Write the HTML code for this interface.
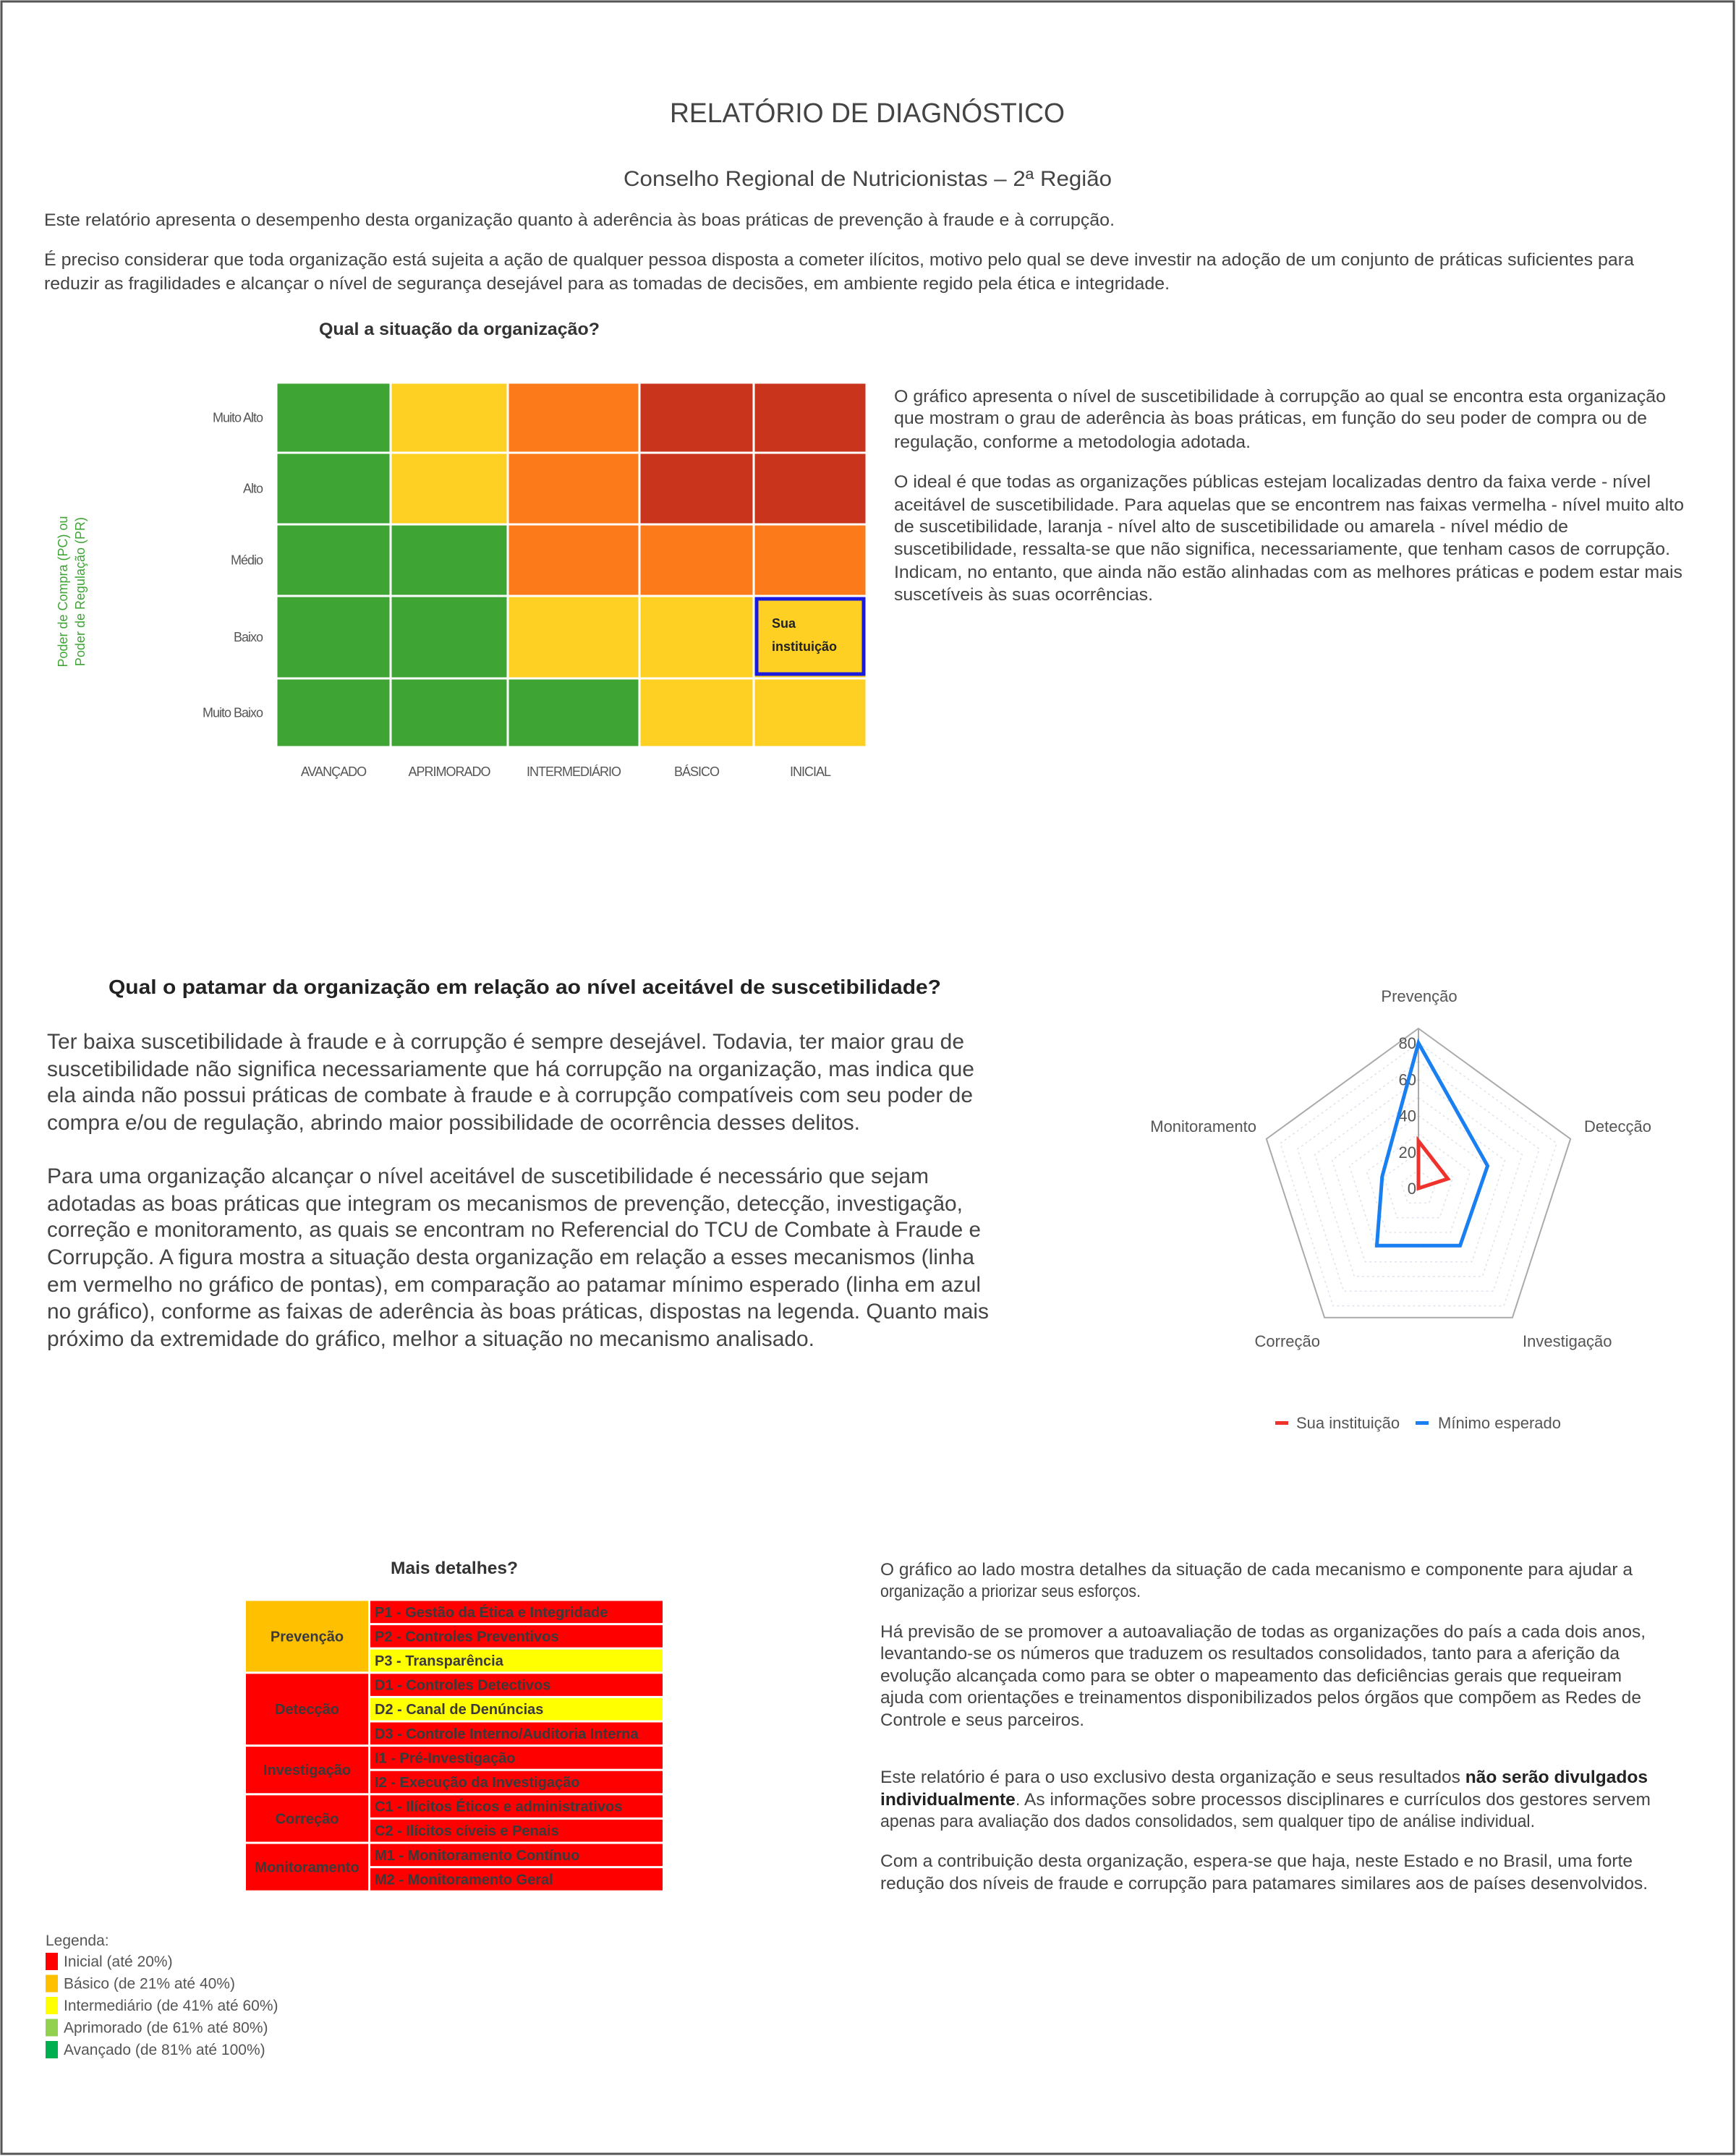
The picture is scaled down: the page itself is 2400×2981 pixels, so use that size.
<!DOCTYPE html>
<html><head><meta charset="utf-8"><style>
html,body{margin:0;padding:0;background:#fff;}
svg{display:block;font-family:"Liberation Sans",Arial,sans-serif;}
</style></head><body>
<svg id="page" width="2400" height="2981" viewBox="0 0 2400 2981" xmlns="http://www.w3.org/2000/svg">
<rect x="2" y="2" width="2395" height="2976" fill="#fff" stroke="#555" stroke-width="3"/>
<g fill="#444">
<text x="926" y="169" font-size="38" textLength="546" lengthAdjust="spacingAndGlyphs">RELATÓRIO DE DIAGNÓSTICO</text>
<text x="862" y="257" font-size="30" textLength="675" lengthAdjust="spacingAndGlyphs">Conselho Regional de Nutricionistas – 2ª Região</text>
<g font-size="24">
<text x="61" y="312" textLength="1480" lengthAdjust="spacingAndGlyphs">Este relatório apresenta o desempenho desta organização quanto à aderência às boas práticas de prevenção à fraude e à corrupção.</text>
<text x="61" y="367" textLength="2198" lengthAdjust="spacingAndGlyphs">É preciso considerar que toda organização está sujeita a ação de qualquer pessoa disposta a cometer ilícitos, motivo pelo qual se deve investir na adoção de um conjunto de práticas suficientes para</text>
<text x="61" y="400" textLength="1556" lengthAdjust="spacingAndGlyphs">reduzir as fragilidades e alcançar o nível de segurança desejável para as tomadas de decisões, em ambiente regido pela ética e integridade.</text>
</g>
<text x="635" y="463" font-size="24" font-weight="bold" text-anchor="middle" textLength="388" lengthAdjust="spacingAndGlyphs" fill="#333">Qual a situação da organização?</text>
<g font-size="24">
<text x="1236" y="556" textLength="1067" lengthAdjust="spacingAndGlyphs">O gráfico apresenta o nível de suscetibilidade à corrupção ao qual se encontra esta organização</text>
<text x="1236" y="586" textLength="1041" lengthAdjust="spacingAndGlyphs">que mostram o grau de aderência às boas práticas, em função do seu poder de compra ou de</text>
<text x="1236" y="619" textLength="493" lengthAdjust="spacingAndGlyphs">regulação, conforme a metodologia adotada.</text>
<text x="1236" y="674" textLength="1046" lengthAdjust="spacingAndGlyphs">O ideal é que todas as organizações públicas estejam localizadas dentro da faixa verde - nível</text>
<text x="1236" y="706" textLength="1092" lengthAdjust="spacingAndGlyphs">aceitável de suscetibilidade. Para aquelas que se encontrem nas faixas vermelha - nível muito alto</text>
<text x="1236" y="736" textLength="932" lengthAdjust="spacingAndGlyphs">de suscetibilidade, laranja - nível alto de suscetibilidade ou amarela - nível médio de</text>
<text x="1236" y="767" textLength="1073" lengthAdjust="spacingAndGlyphs">suscetibilidade, ressalta-se que não significa, necessariamente, que tenham casos de corrupção.</text>
<text x="1236" y="799" textLength="1090" lengthAdjust="spacingAndGlyphs">Indicam, no entanto, que ainda não estão alinhadas com as melhores práticas e podem estar mais</text>
<text x="1236" y="830" textLength="358" lengthAdjust="spacingAndGlyphs">suscetíveis às suas ocorrências.</text>
</g>
<text x="150" y="1374" font-size="28" font-weight="bold" textLength="1151" lengthAdjust="spacingAndGlyphs" fill="#222">Qual o patamar da organização em relação ao nível aceitável de suscetibilidade?</text>
<g font-size="30">
<text x="65" y="1450" textLength="1268" lengthAdjust="spacingAndGlyphs">Ter baixa suscetibilidade à fraude e à corrupção é sempre desejável. Todavia, ter maior grau de</text>
<text x="65" y="1488" textLength="1282" lengthAdjust="spacingAndGlyphs">suscetibilidade não significa necessariamente que há corrupção na organização, mas indica que</text>
<text x="65" y="1524" textLength="1280" lengthAdjust="spacingAndGlyphs">ela ainda não possui práticas de combate à fraude e à corrupção compatíveis com seu poder de</text>
<text x="65" y="1562" textLength="1124" lengthAdjust="spacingAndGlyphs">compra e/ou de regulação, abrindo maior possibilidade de ocorrência desses delitos.</text>
<text x="65" y="1636" textLength="1219" lengthAdjust="spacingAndGlyphs">Para uma organização alcançar o nível aceitável de suscetibilidade é necessário que sejam</text>
<text x="65" y="1674" textLength="1266" lengthAdjust="spacingAndGlyphs">adotadas as boas práticas que integram os mecanismos de prevenção, detecção, investigação,</text>
<text x="65" y="1710" textLength="1291" lengthAdjust="spacingAndGlyphs">correção e monitoramento, as quais se encontram no Referencial do TCU de Combate à Fraude e</text>
<text x="65" y="1748" textLength="1282" lengthAdjust="spacingAndGlyphs">Corrupção. A figura mostra a situação desta organização em relação a esses mecanismos (linha</text>
<text x="65" y="1786" textLength="1291" lengthAdjust="spacingAndGlyphs">em vermelho no gráfico de pontas), em comparação ao patamar mínimo esperado (linha em azul</text>
<text x="65" y="1823" textLength="1302" lengthAdjust="spacingAndGlyphs">no gráfico), conforme as faixas de aderência às boas práticas, dispostas na legenda. Quanto mais</text>
<text x="65" y="1861" textLength="1061" lengthAdjust="spacingAndGlyphs">próximo da extremidade do gráfico, melhor a situação no mecanismo analisado.</text>
</g>
<text x="628" y="2176" font-size="24" font-weight="bold" text-anchor="middle" textLength="176" lengthAdjust="spacingAndGlyphs" fill="#333">Mais detalhes?</text>
<g font-size="24">
<text x="1217" y="2178" textLength="1040" lengthAdjust="spacingAndGlyphs">O gráfico ao lado mostra detalhes da situação de cada mecanismo e componente para ajudar a</text>
<text x="1217" y="2208" textLength="360" lengthAdjust="spacingAndGlyphs">organização a priorizar seus esforços.</text>
<text x="1217" y="2264" textLength="1058" lengthAdjust="spacingAndGlyphs">Há previsão de se promover a autoavaliação de todas as organizações do país a cada dois anos,</text>
<text x="1217" y="2294" textLength="1022" lengthAdjust="spacingAndGlyphs">levantando-se os números que traduzem os resultados consolidados, tanto para a aferição da</text>
<text x="1217" y="2325" textLength="1025" lengthAdjust="spacingAndGlyphs">evolução alcançada como para se obter o mapeamento das deficiências gerais que requeiram</text>
<text x="1217" y="2355" textLength="1052" lengthAdjust="spacingAndGlyphs">ajuda com orientações e treinamentos disponibilizados pelos órgãos que compõem as Redes de</text>
<text x="1217" y="2386" textLength="282" lengthAdjust="spacingAndGlyphs">Controle e seus parceiros.</text>
<text x="1217" y="2465" textLength="1061" lengthAdjust="spacingAndGlyphs">Este relatório é para o uso exclusivo desta organização e seus resultados <tspan font-weight="bold" fill="#222">não serão divulgados</tspan></text>
<text x="1217" y="2496" textLength="1065" lengthAdjust="spacingAndGlyphs"><tspan font-weight="bold" fill="#222">individualmente</tspan>. As informações sobre processos disciplinares e currículos dos gestores servem</text>
<text x="1217" y="2526" textLength="905" lengthAdjust="spacingAndGlyphs">apenas para avaliação dos dados consolidados, sem qualquer tipo de análise individual.</text>
<text x="1217" y="2581" textLength="1040" lengthAdjust="spacingAndGlyphs">Com a contribuição desta organização, espera-se que haja, neste Estado e no Brasil, uma forte</text>
<text x="1217" y="2612" textLength="1061" lengthAdjust="spacingAndGlyphs">redução dos níveis de fraude e corrupção para patamares similares aos de países desenvolvidos.</text>
</g>
</g>
<g id="heatmap"></g>
<g id="radar"></g>
<g id="table"></g>
<g id="legend"></g>
</svg>
<script>
const NS = "http://www.w3.org/2000/svg";
// ---- heatmap data ----
const hmCols = ["AVANÇADO","APRIMORADO","INTERMEDIÁRIO","BÁSICO","INICIAL"];
const hmRows = ["Muito Alto","Alto","Médio","Baixo","Muito Baixo"];
const hmLevels = [
  [0,1,2,3,3],
  [0,1,2,3,3],
  [0,0,2,2,2],
  [0,0,1,1,1],
  [0,0,0,1,1]
];
const hmPosition = ["INICIAL","Baixo"];
// ---- radar data ----
const radarAxes = ["Prevenção","Detecção","Investigação","Correção","Monitoramento"];
const radarSua = [26,17,0,0,0];
const radarMinimo = [80,40,39,39,21];
const radarTicks = [0,20,40,60,80];
const radarMax = 88;
// ---- details table data ----
const mechanisms = ["Prevenção","Detecção","Investigação","Correção","Monitoramento"];
const mechanismLevel = ["basico","inicial","inicial","inicial","inicial"];
const components = ["P1 - Gestão da Ética e Integridade","P2 - Controles Preventivos","P3 - Transparência","D1 - Controles Detectivos","D2 - Canal de Denúncias","D3 - Controle Interno/Auditoria Interna","I1 - Pré-Investigação","I2 - Execução da Investigação","C1 - Ilícitos Éticos e administrativos","C2 - Ilícitos cíveis e Penais","M1 - Monitoramento Contínuo","M2 - Monitoramento Geral"];
const componentMechanism = [0,0,0,1,1,1,2,2,3,3,4,4];
const componentLevel = ["inicial","inicial","intermediario","inicial","intermediario","inicial","inicial","inicial","inicial","inicial","inicial","inicial"];
const legendLabels = ["Inicial (até 20%)","Básico (de 21% até 40%)","Intermediário (de 41% até 60%)","Aprimorado (de 61% até 80%)","Avançado (de 81% até 100%)"];
const legendKeys = ["inicial","basico","intermediario","aprimorado","avancado"];

function mk(tag, attrs, parent, txt){
  const e = document.createElementNS(NS, tag);
  for (const k in attrs) e.setAttribute(k, attrs[k]);
  if (txt !== undefined) e.textContent = txt;
  parent.appendChild(e);
  return e;
}

// ===== heatmap =====
(function(){
  const g = document.getElementById("heatmap");
  const colEdges = [382,540,702,884,1042,1198];
  const rowEdges = [529,626,725,824,938,1033];
  const hmColors = ["#3ea535","#fdd023","#fd7a1b","#c9351c"];
  hmRows.forEach((rn, r) => {
    hmCols.forEach((cn, c) => {
      const x0 = colEdges[c], x1 = colEdges[c+1], y0 = rowEdges[r], y1 = rowEdges[r+1];
      const cell = mk("rect", {x:x0+1.5, y:y0+1.5, width:x1-x0-3, height:y1-y0-3, fill:hmColors[hmLevels[r][c]]}, g);
      
      
      if (hmPosition[0] === cn && hmPosition[1] === rn) {
        const box = mk("rect", {x:x0+4, y:y0+4, width:x1-x0-8, height:y1-y0-10, fill:"none", stroke:"#1a1adf", "stroke-width":5}, g);
        
        
        const t1 = mk("text", {x:x0+25, y:y0+44, "font-size":18, "font-weight":"bold", fill:"#222"}, g, "Sua");
        
        
        const t2 = mk("text", {x:x0+25, y:y0+76, "font-size":18, "font-weight":"bold", fill:"#222"}, g, "instituição");
        
        
      }
    });
    const lab = mk("text", {x:363, y:(rowEdges[r]+rowEdges[r+1])/2+6, "font-size":18, "text-anchor":"end", fill:"#555", "letter-spacing":"-1"}, g, rn);
    
    
  });
  hmCols.forEach((cn, c) => {
    const lab = mk("text", {x:(colEdges[c]+colEdges[c+1])/2, y:1073, "font-size":18, "text-anchor":"middle", fill:"#555", "letter-spacing":"-1"}, g, cn);
    
    
  });
  const yt = mk("text", {transform:"translate(93,818) rotate(-90)", "font-size":18, "text-anchor":"middle", fill:"#3ea535"}, g, "Poder de Compra (PC) ou");
  
  
  const yt2 = mk("text", {transform:"translate(117,818) rotate(-90)", "font-size":18, "text-anchor":"middle", fill:"#3ea535"}, g, "Poder de Regulação (PR)");
  
  
})();

// ===== radar =====
(function(){
  const g = document.getElementById("radar");
  const cx = 1961, cy = 1643, R = 221;
  const n = radarAxes.length;
  const ang = i => -Math.PI/2 + i*2*Math.PI/n;
  const pt = (i, v) => [cx + Math.cos(ang(i))*v/radarMax*R, cy + Math.sin(ang(i))*v/radarMax*R];
  for (let v = 10; v < radarMax; v += 10) {
    const p = radarAxes.map((a,i)=>pt(i,v).join(",")).join(" ");
    const ring = mk("polygon", {points:p, fill:"none", stroke:"#dde3ee", "stroke-width":1.5, "stroke-dasharray":"3,4"}, g);
    
    
  }
  const outer = mk("polygon", {points:radarAxes.map((a,i)=>pt(i,radarMax).join(",")).join(" "), fill:"none", stroke:"#aaa", "stroke-width":2}, g);
  
  
  const top = pt(0, radarMax);
  const ax = mk("line", {x1:cx, y1:cy, x2:top[0], y2:top[1], stroke:"#aaa", "stroke-width":2}, g);
  
  
  radarTicks.forEach(t => {
    const p = pt(0, t);
    const tl = mk("text", {x:cx-3, y:p[1]+8, "font-size":22, "text-anchor":"end", fill:"#555"}, g, String(t));
    
    
  });
  const lpos = [[1962,1385,"middle"],[2190,1565,"start"],[2105,1862,"start"],[1825,1862,"end"],[1737,1565,"end"]];
  radarAxes.forEach((a,i) => {
    const l = mk("text", {x:lpos[i][0], y:lpos[i][1], "font-size":22, "text-anchor":lpos[i][2], fill:"#555"}, g, a);
    
    
  });
  const blue = mk("polygon", {points:radarMinimo.map((v,i)=>pt(i,v).join(",")).join(" "), fill:"none", stroke:"#1a7ff0", "stroke-width":5, "stroke-linejoin":"miter"}, g);
  
  
  const red = mk("polygon", {points:radarSua.map((v,i)=>pt(i,v).join(",")).join(" "), fill:"none", stroke:"#f0322d", "stroke-width":5}, g);
  
  
  const lr = mk("rect", {x:1763, y:1965, width:18, height:5, fill:"#f0322d"}, g);
  
  
  const lt = mk("text", {x:1792, y:1975, "font-size":22, fill:"#555"}, g, "Sua instituição");
  
  
  const lb = mk("rect", {x:1957, y:1965, width:18, height:5, fill:"#1a7ff0"}, g);
  
  
  const lt2 = mk("text", {x:1988, y:1975, "font-size":22, fill:"#555"}, g, "Mínimo esperado");
  
  
})();

// ===== details table =====
const levelColors = {inicial:"#ff0000", basico:"#ffc000", intermediario:"#ffff00", aprimorado:"#92d050", avancado:"#00b050"};
(function(){
  const g = document.getElementById("table");
  const x0 = 339, x1 = 510, x2 = 917, y0 = 2212, rh = 33.6;
  components.forEach((c,i) => {
    const r = mk("rect", {x:x1+2, y:y0+i*rh+1.5, width:x2-x1-3, height:rh-3, fill:levelColors[componentLevel[i]]}, g);
    
    
    const t = mk("text", {x:x1+8, y:y0+i*rh+rh/2+7, "font-size":20, "font-weight":"bold", fill:"#3a3a3a"}, g, c);
    
    
  });
  mechanisms.forEach((m,j) => {
    const idx = componentMechanism.map((v,i)=>v===j?i:-1).filter(i=>i>=0);
    const ya = y0 + idx[0]*rh, yb = y0 + (idx[idx.length-1]+1)*rh;
    const r = mk("rect", {x:x0+1, y:ya+1.5, width:x1-x0-2, height:yb-ya-3, fill:levelColors[mechanismLevel[j]]}, g);
    
    
    const t = mk("text", {x:(x0+x1)/2, y:(ya+yb)/2+7, "font-size":20, "font-weight":"bold", "text-anchor":"middle", fill:"#3a3a3a"}, g, m);
    
    
  });
})();

// ===== legend =====
(function(){
  const g = document.getElementById("legend");
  const h = mk("text", {x:63, y:2690, "font-size":21, fill:"#555"}, g, "Legenda:");
  
  
  legendLabels.forEach((l,i) => {
    const y = 2700 + i*30.5;
    const s = mk("rect", {x:63, y:y, width:17, height:24, fill:levelColors[legendKeys[i]]}, g);
    
    
    const t = mk("text", {x:88, y:y+19, "font-size":21, fill:"#555"}, g, l);
    
    
  });
})();
</script>
</body></html>
